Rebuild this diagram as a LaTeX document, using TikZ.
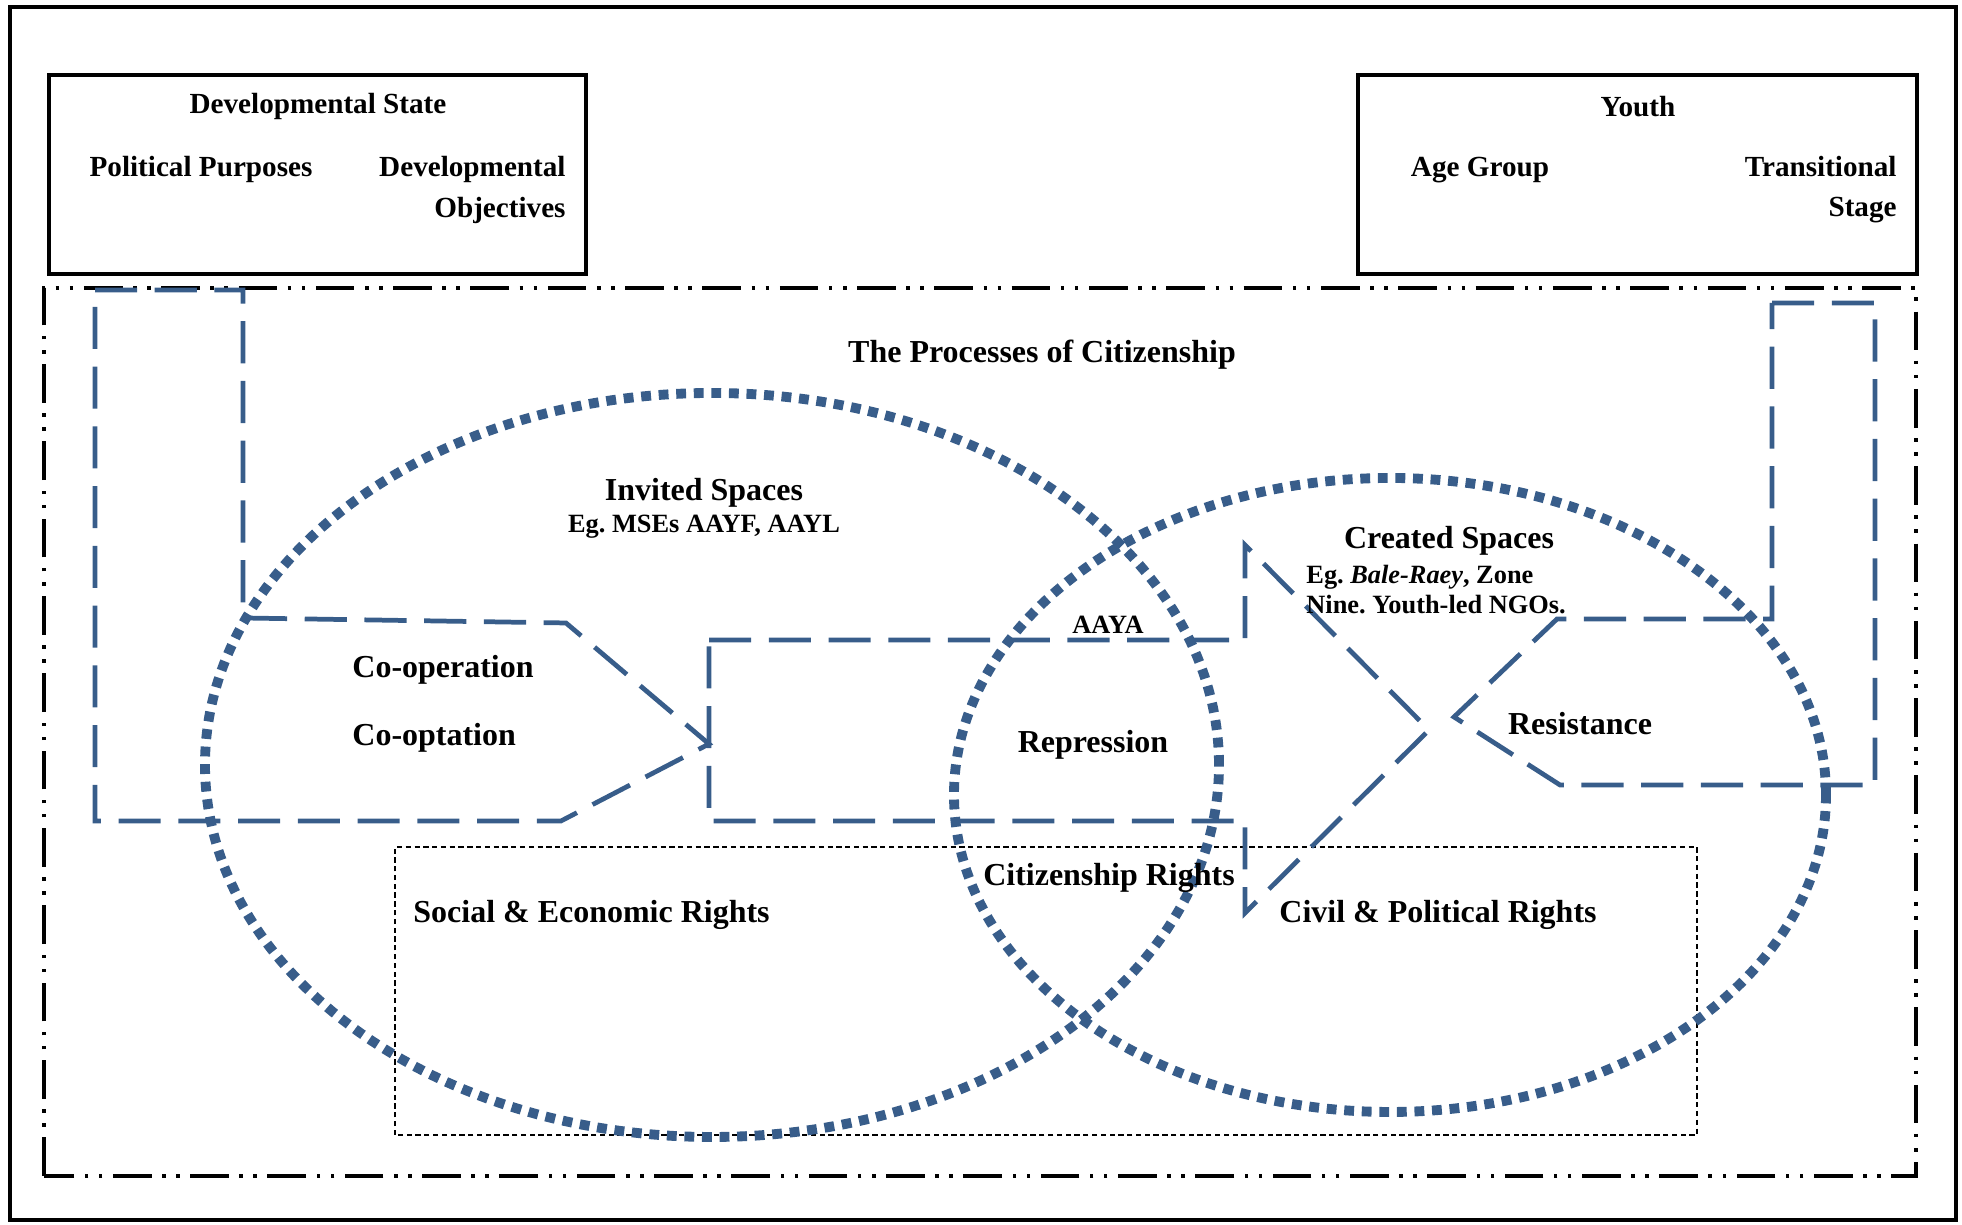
\documentclass[tikz,border=0pt]{standalone}
\usepackage{fontspec}
\setmainfont{Liberation Serif}
\usepackage{xcolor}
\usepackage{tikz}
\definecolor{spaceblue}{RGB}{56,93,138}
\frenchspacing

\begin{document}
\begin{tikzpicture}[transform shape,scale=1,
		spacepath/.style={draw=spaceblue,line width=1.35pt,dash pattern=on 12pt off 5pt},
		spacering/.style={draw=spaceblue,line width=2.8pt,dash pattern=on 2.8pt off 2.2pt},
		mainlbl/.style={font=\fontsize{9.1}{11}\selectfont\bfseries},
		boxlbl/.style={font=\fontsize{8.3}{11.4}\selectfont\bfseries},
		sublbl/.style={font=\fontsize{7.5}{8.5}\selectfont\bfseries}]
		\useasboundingbox (0,0) rectangle (19.62,12.25);
		% frames
		\draw[line width=1.2pt] (0.10,0.05) rectangle (19.56,12.18);
		\draw[line width=1pt] (0.49,9.51) rectangle (5.86,11.50);
		\draw[line width=1pt] (13.58,9.51) rectangle (19.17,11.50);
		\draw[line width=1.1pt,dash pattern=on 11pt off 3pt on 1pt off 3pt on 1pt off 3pt] (0.44,0.49) rectangle (19.16,9.37);
		\draw[line width=0.5pt,dash pattern=on 1.5pt off 1pt] (3.95,0.90) rectangle (16.97,3.78);
		% the three dashed arrows
		\draw[spacepath] (0.95,9.35) -- (2.43,9.35) -- (2.43,6.07) -- (5.66,6.02) -- (7.09,4.81) -- (5.61,4.04) -- (0.95,4.04) -- cycle;
		\draw[spacepath] (7.09,5.85) -- (12.45,5.85) -- (12.45,6.80) -- (14.29,4.95) -- (12.45,3.12) -- (12.45,4.04) -- (7.09,4.04) -- cycle;
		\draw[spacepath] (17.72,9.22) -- (18.75,9.22) -- (18.75,4.40) -- (15.60,4.40) -- (14.54,5.08) -- (15.57,6.06) -- (17.72,6.06) -- cycle;
		% invited and created spaces
		\draw[spacering] (7.12,4.60) ellipse (5.07 and 3.72);
		\draw[spacering] (13.90,4.30) ellipse (4.36 and 3.17);
		% labels
		\node[boxlbl] (devstate) at (3.18,11.18) {Developmental State};
		\node[boxlbl] (polpurp) at (2.01,10.55) {Political Purposes};
		\node[boxlbl,anchor=east,align=right] (devobj) at (5.78,10.35) {Developmental\\Objectives};
		\node[boxlbl] (youth) at (16.38,11.18) {Youth};
		\node[boxlbl] (agegroup) at (14.80,10.55) {Age Group};
		\node[boxlbl,anchor=east,align=right] (transit) at (19.09,10.35) {Transitional\\Stage};
		\node[mainlbl] (processes) at (10.42,8.70) {The Processes of Citizenship};
		\node[mainlbl] (invited) at (7.04,7.32) {Invited Spaces};
		\node[sublbl] (invitedeg) at (7.04,6.98) {Eg. MSEs AAYF, AAYL};
		\node[mainlbl] (created) at (14.49,6.84) {Created Spaces};
		\node[sublbl,anchor=west,align=left] (createdeg) at (12.94,6.35) {Eg. \textit{Bale-Raey}, Zone\\Nine. Youth-led NGOs.};
		\node[sublbl] (aaya) at (11.08,6.00) {AAYA};
		\node[mainlbl,anchor=west] (coop) at (3.40,5.55) {Co-operation};
		\node[mainlbl,anchor=west] (coopt) at (3.40,4.87) {Co-optation};
		\node[mainlbl] (repress) at (10.93,4.80) {Repression};
		\node[mainlbl] (resist) at (15.80,5.01) {Resistance};
		\node[mainlbl] (citrights) at (11.09,3.47) {Citizenship Rights};
		\node[mainlbl,anchor=west] (socrights) at (4.01,3.10) {Social \& Economic Rights};
		\node[mainlbl,anchor=west] (civrights) at (12.67,3.10) {Civil \& Political Rights};
	\end{tikzpicture}
\end{document}
